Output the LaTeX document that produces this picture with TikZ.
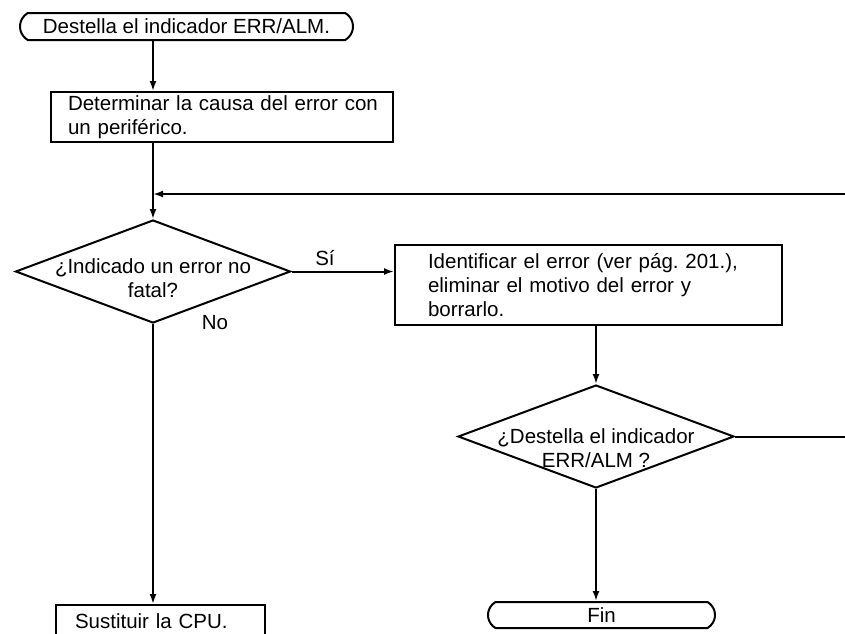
\documentclass[tikz,border=0pt]{standalone}
\usepackage{fontspec}
\setmainfont{Liberation Sans}
\frenchspacing
\usetikzlibrary{shapes.geometric,shapes.misc,arrows.meta}
\begin{document}
\begin{tikzpicture}[x=1pt,y=-1pt,
  every node/.style={font=\fontsize{20.5pt}{24pt}\selectfont},
  term/.style={draw,line width=2pt,rounded rectangle,rounded rectangle arc length=120,inner sep=0pt},
  box/.style={draw,line width=2pt,rectangle,align=left,inner ysep=0pt},
  dia/.style={draw,line width=2pt,diamond,inner sep=0pt},
  txt/.style={align=center,inner sep=0pt},
  lbl/.style={inner sep=0pt},
  conn/.style={line width=2pt},
  arr/.style={line width=2pt,-{Latex[length=10pt,width=7pt]}}]
\useasboundingbox (0,0) rectangle (845,633);
\clip (0,0) rectangle (845,633);
% nodes
\node[term,minimum width=333pt,minimum height=27pt] (t1) at (186.5,26.5) {Destella el indicador ERR/ALM.};
\node[box,minimum width=342pt,minimum height=50pt,text width=314pt,inner xsep=14pt] (b1) at (222,117) {\hspace*{3pt}Determinar la causa del error con\\\hspace*{3pt}un periférico.};
\node[dia,minimum width=275pt,minimum height=103pt] (d1) at (153,271.5) {};
\node[txt] (d1t) at (153,278) {¿Indicado un error no\\fatal?};
\node[box,minimum width=387pt,minimum height=80pt,text width=321pt,inner xsep=33pt] (b2) at (588.5,285) {Identificar el error (ver pág. 201.),\\eliminar el motivo del error y\\borrarlo.};
\node[dia,minimum width=276pt,minimum height=103pt] (d2) at (596,436.5) {};
\node[txt] (d2t) at (596,448) {¿Destella el indicador\\ERR/ALM ?};
\node[box,minimum width=209pt,minimum height=32pt,text width=171pt,inner xsep=19pt] (s) at (160.5,621) {Sustituir la CPU.};
\node[term,minimum width=227pt,minimum height=26pt] (fin) at (601.5,615) {Fin};
\node[lbl] (si) at (325,258) {Sí};
\node[lbl] (no) at (215,323) {No};
\coordinate (j) at (153,194);
\coordinate (r) at (860,194);
% connectors
\draw[arr] (d1 |- t1.south) -- (d1 |- b1.north);
\draw[arr] (d1 |- b1.south) -- (d1.north);
\draw[arr] (d2.east) -- (d2.east -| r) -- (r) -- (j);
\draw[arr] (d1.east) -- (b2.west |- d1.east);
\draw[arr] (d1.south) -- (d1.south |- s.north);
\draw[arr] (d2 |- b2.south) -- (d2.north);
\draw[arr] (d2.south) -- (d2.south |- fin.north);
\end{tikzpicture}
\end{document}
